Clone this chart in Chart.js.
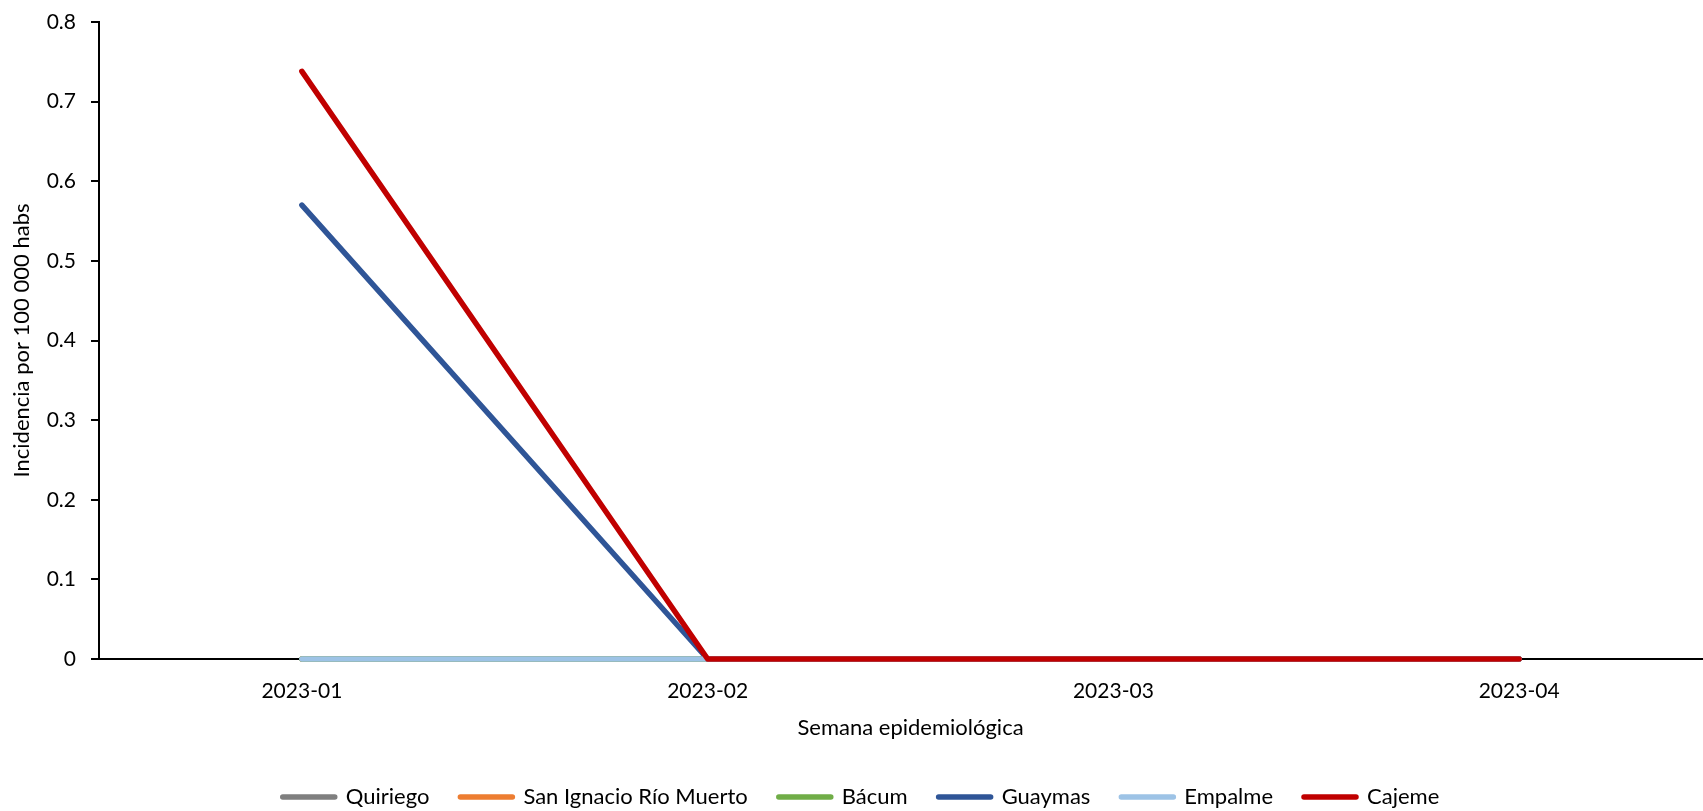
<!DOCTYPE html>
<html>
<head>
<meta charset="utf-8">
<script src="https://cdn.jsdelivr.net/npm/chart.js@4"></script>
<style>
  html, body { margin: 0; padding: 0; background: #fff; overflow: hidden; }
  #wrap { width: 1722px; height: 818px; position: relative; }
</style>
</head>
<body>
<div id="wrap"><canvas id="c"></canvas></div>
<script>
const categories = ['2023-01', '2023-02', '2023-03', '2023-04'];
const seriesNames = ['Quiriego', 'San Ignacio Río Muerto', 'Bácum', 'Guaymas', 'Empalme', 'Cajeme'];
const quiriego = [0, 0, 0, 0];
const sanIgnacio = [0, 0, 0, 0];
const bacum = [0, 0, 0, 0];
const guaymas = [0.570, 0, 0, 0];
const empalme = [0, 0, 0, 0];
const cajeme = [0.738, 0, 0, 0];
const seriesColors = ['#7f7f7f', '#ed7d31', '#70ad47', '#2f5597', '#9dc3e6', '#c00000'];
const yTicks = { min: 0, max: 0.8, step: 0.1 };
const xTitle = 'Semana epidemiológica';
const yTitle = 'Incidencia por 100 000 habs';

const seriesValues = [quiriego, sanIgnacio, bacum, guaymas, empalme, cajeme];
const FONT = 'Lato';

const datasets = seriesNames.map((name, i) => ({
  label: name,
  data: seriesValues[i],
  borderColor: seriesColors[i],
  backgroundColor: seriesColors[i],
  borderWidth: 5.5,
  borderCapStyle: 'round',
  borderJoinStyle: 'round',
  pointRadius: 0,
  pointHoverRadius: 0,
  tension: 0,
  fill: false,
  clip: false,
  order: seriesNames.length - i
}));

new Chart(document.getElementById('c'), {
  type: 'line',
  data: { labels: categories, datasets },
  options: {
    responsive: true,
    maintainAspectRatio: false,
    animation: false,
    devicePixelRatio: 1,
    layout: { autoPadding: false, padding: { top: 22, left: 0, right: 0, bottom: 0 } },
    plugins: {
      tooltip: { enabled: false },
      legend: {
        position: 'bottom',
        align: 'center',
        labels: {
          usePointStyle: true,
          pointStyleWidth: 52,
          padding: 31,
          color: '#000',
          font: { family: FONT, size: 22 },
          generateLabels: (chart) => {
            const items = Chart.defaults.plugins.legend.labels.generateLabels(chart);
            items.forEach(it => {
              const ds = chart.data.datasets[it.datasetIndex];
              it.strokeStyle = ds.borderColor;
              it.fillStyle = ds.borderColor;
              it.lineWidth = 5.5;
              it.lineCap = 'round';
              it.pointStyle = 'line';
            });
            return items.sort((a, b) => a.datasetIndex - b.datasetIndex);
          }
        }
      }
    },
    scales: {
      x: {
        type: 'category',
        offset: true,
        grid: { display: false },
        border: { display: true, color: '#000', width: 2 },
        ticks: { color: '#000', font: { family: FONT, size: 21 }, padding: 12, maxRotation: 0 },
        title: { display: true, text: xTitle, color: '#000', font: { family: FONT, size: 22 }, padding: { top: 0, bottom: 13.5 } },
        afterFit: (s) => { s.height = 96; s.paddingLeft = 0; s.paddingRight = 0; }
      },
      y: {
        min: yTicks.min,
        max: yTicks.max,
        grid: { drawOnChartArea: false, drawTicks: true, tickLength: 8, color: '#000', lineWidth: 2 },
        border: { display: true, color: '#000', width: 2 },
        ticks: {
          stepSize: yTicks.step,
          color: '#000',
          font: { family: FONT, size: 21 },
          padding: 15,
          callback: (v) => String(Number(Number(v).toFixed(1)))
        },
        title: { display: true, text: yTitle, color: '#000', font: { family: FONT, size: 22 }, padding: { top: 9, bottom: 0 } },
        afterFit: (s) => { s.width = 99; s.paddingTop = 0; s.paddingBottom = 0; }
      }
    }
  }
});
</script>
</body>
</html>
